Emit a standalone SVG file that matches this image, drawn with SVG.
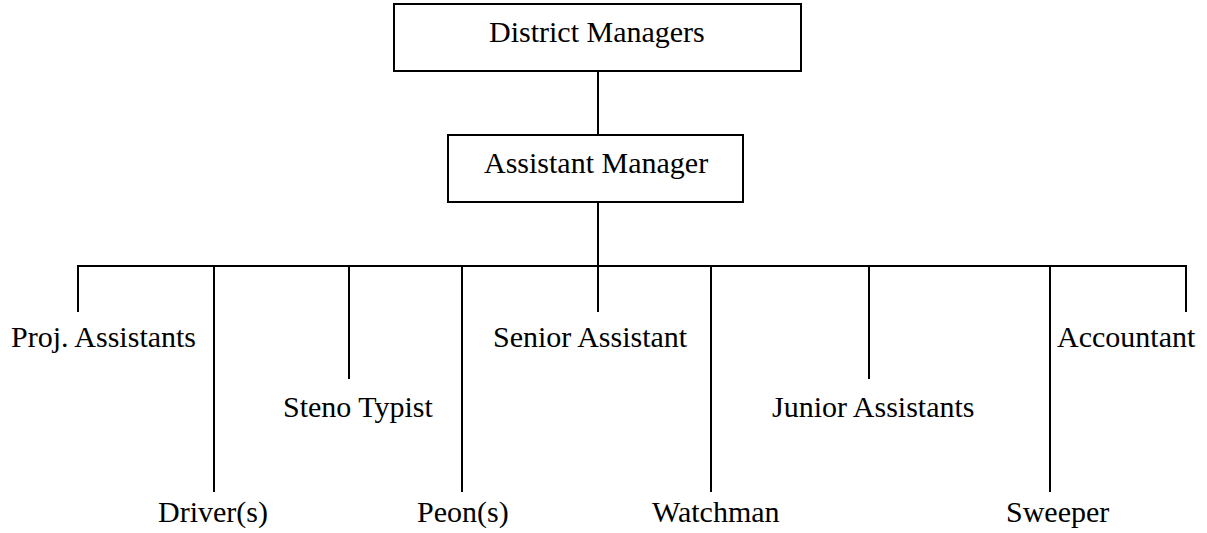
<svg xmlns="http://www.w3.org/2000/svg" width="1207" height="533" viewBox="0 0 1207 533">
<style>
  .box { fill: #ffffff; stroke: #000000; stroke-width: 2; }
  .ln { stroke: #000000; stroke-width: 2; fill: none; }
  text { font-family: "Liberation Serif", "Times New Roman", serif; font-size: 30px; fill: #000000; }
</style>
<rect width="1207" height="533" fill="#ffffff"/>
<g id="connectors">
  <line class="ln" x1="598" y1="71" x2="598" y2="134"/>
  <line class="ln" x1="598" y1="202" x2="598" y2="266"/>
  <line class="ln" x1="77" y1="266" x2="1187" y2="266"/>
  <line class="ln" x1="78" y1="266" x2="78" y2="312"/>
  <line class="ln" x1="214" y1="266" x2="214" y2="492"/>
  <line class="ln" x1="349" y1="266" x2="349" y2="379"/>
  <line class="ln" x1="462" y1="266" x2="462" y2="492"/>
  <line class="ln" x1="598" y1="266" x2="598" y2="312"/>
  <line class="ln" x1="711" y1="266" x2="711" y2="492"/>
  <line class="ln" x1="869" y1="266" x2="869" y2="379"/>
  <line class="ln" x1="1050" y1="266" x2="1050" y2="492"/>
  <line class="ln" x1="1186" y1="266" x2="1186" y2="312"/>
</g>
<g id="district-managers">
  <rect class="box" x="394" y="4" width="407" height="67"/>
  <text x="489" y="42">District Managers</text>
</g>
<g id="assistant-manager">
  <rect class="box" x="448" y="135" width="295" height="67"/>
  <text x="484" y="173">Assistant Manager</text>
</g>
<g id="proj-assistants"><text x="11" y="347">Proj. Assistants</text></g>
<g id="senior-assistant"><text x="493" y="347">Senior Assistant</text></g>
<g id="accountant"><text x="1057" y="347">Accountant</text></g>
<g id="steno-typist"><text x="283" y="417">Steno Typist</text></g>
<g id="junior-assistants"><text x="772" y="417">Junior Assistants</text></g>
<g id="drivers"><text x="158" y="522">Driver(s)</text></g>
<g id="peons"><text x="417" y="522">Peon(s)</text></g>
<g id="watchman"><text x="652" y="522">Watchman</text></g>
<g id="sweeper"><text x="1006" y="522">Sweeper</text></g>
</svg>
